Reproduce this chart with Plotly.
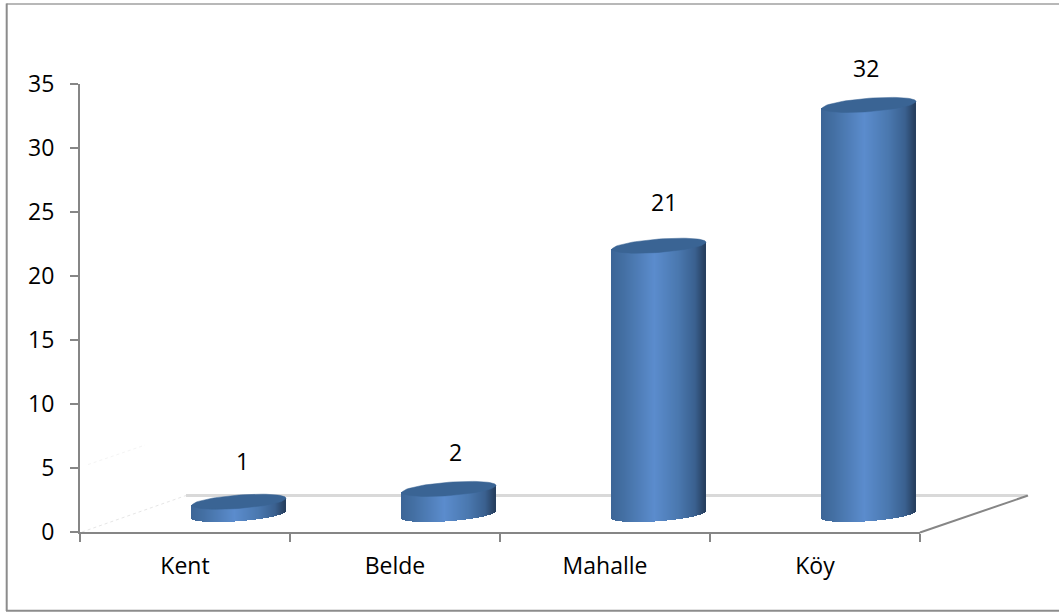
import math
import plotly.graph_objects as go

# ---- data ----
categories = ["Kent", "Belde", "Mahalle", "Köy"]
values = [1, 2, 21, 32]
y_ticks = [0, 5, 10, 15, 20, 25, 30, 35]

# ---- geometry / style ----
W, H = 1059, 612
L, R, T, B = 80, 920, 83.5, 532
UNIT = (B - T) / 35
X_UNIT = (R - L) / 4
DEPTH_X = 54 / X_UNIT          # floor depth shift of the cylinders
BASE = (B - 514.5) / UNIT      # floor lift of the cylinders, value units
HALF = 47 / X_UNIT
SHEAR = 3.5 / UNIT
MINOR = 6.7 / UNIT
N = 94
GREY = "#868686"
FONT = dict(family="Open Sans, Lato, sans-serif", size=23, color="#000000")
label_dx = [3.5, 6, 5, -3]
label_dy = [3.15, 2.85, 3.45, 2.85]
stops = [(-1, (60, 101, 150)), (-0.72, (68, 112, 164)), (-0.08, (91, 140, 205)),
         (0.43, (74, 120, 175)), (0.79, (58, 96, 143)), (1, (38, 62, 94))]


def shade(t):
    for (a, ca), (b, cb) in zip(stops, stops[1:]):
        if t <= b:
            f = (t - a) / (b - a)
            return "rgb(%d,%d,%d)" % tuple(round(p + (q - p) * f) for p, q in zip(ca, cb))
    return "rgb(38,62,94)"


def px(x):
    return (x - L) / (R - L)


def py(y):
    return (B - y) / (B - T)


fig = go.Figure()

# invisible carrier that gives the category axis its labels
fig.add_trace(go.Scatter(x=categories, y=values, mode="markers", marker=dict(opacity=0),
                         hoverinfo="skip", xaxis="x", yaxis="y", showlegend=False))

# cylinder sides: thin shaded bars
bx, bbase, by, bcol = [], [], [], []
for i, v in enumerate(values):
    c = i + DEPTH_X
    for k in range(N):
        t = -1 + 2 * (k + 0.5) / N
        low = BASE + SHEAR * t - MINOR * math.sqrt(1 - t * t)
        top = BASE + v + SHEAR * t
        bx.append(c + t * HALF)
        bbase.append(low)
        by.append(top - low)
        bcol.append(shade(t))
fig.add_trace(go.Bar(x=bx, y=by, base=bbase, width=[2.7 * HALF / N] * len(bx),
                     marker=dict(color=bcol, line=dict(width=0)), hoverinfo="skip",
                     xaxis="x2", yaxis="y", showlegend=False))

# cylinder caps
for i, v in enumerate(values):
    c = i + DEPTH_X
    angles = [2 * math.pi * k / 72 for k in range(73)]
    fig.add_trace(go.Scatter(
        x=[c + HALF * math.cos(a) for a in angles],
        y=[BASE + v + SHEAR * math.cos(a) + MINOR * math.sin(a) for a in angles],
        mode="lines", line=dict(width=0.5, color="#3a6494"), fill="toself",
        fillcolor="#3a6494", hoverinfo="skip", xaxis="x2", yaxis="y", showlegend=False))

# value labels (paper reference: the highest one sits above the axis range)
annotations = [
    dict(x=(i + DEPTH_X + label_dx[i] / X_UNIT + 0.5) / 4, y=(BASE + v + label_dy[i]) / 35,
         xref="paper", yref="paper",
         text=str(v), showarrow=False, font=FONT, xanchor="center", yanchor="middle")
    for i, v in enumerate(values)
]


def seg(x0, y0, x1, y1, color, width, dash="solid"):
    return dict(type="line", xref="paper", yref="paper", x0=px(x0), y0=py(y0), x1=px(x1), y1=py(y1),
                line=dict(color=color, width=width, dash=dash), layer="below")


shapes = [
    seg(186, 495.5, 1027, 495.5, "#d9d9d9", 3),
    seg(82, 532, 186, 495.5, "#e6e6e6", 1, "dot"),
    seg(88, 464.5, 145, 445, "#f4f4f4", 1, "dot"),
    seg(920, 532.5, 1028, 495.5, GREY, 2),
    seg(6.5, 3.3, 1059, 3.3, "#a0a0a0", 1.5),
    seg(6.7, 3, 6.7, 611, "#8c8c8c", 2),
    seg(6, 610.8, 1059, 610.8, "#8c8c8c", 2),
]

fig.update_layout(
    width=W, height=H, autosize=False,
    margin=dict(l=L, r=W - R, t=T, b=H - B, pad=0),
    paper_bgcolor="white", plot_bgcolor="white",
    barmode="overlay", bargap=0, showlegend=False,
    shapes=shapes, annotations=annotations,
    xaxis=dict(type="category", categoryorder="array", categoryarray=categories,
               range=[-0.5, 3.5], tickson="boundaries", ticks="outside", ticklen=8,
               tickwidth=2, tickcolor=GREY, showline=True, linecolor=GREY, linewidth=2,
               showgrid=False, zeroline=False, tickfont=FONT, ticklabelstandoff=12),
    xaxis2=dict(overlaying="x", matches=None, range=[-0.5, 3.5], visible=False, showgrid=False,
                zeroline=False),
    yaxis=dict(range=[0, 35], tickmode="array", tickvals=y_ticks, ticktext=[str(v) for v in y_ticks],
               ticks="outside", ticklen=8, tickwidth=2, tickcolor=GREY, showline=True,
               linecolor=GREY, linewidth=2, showgrid=False, zeroline=False, tickfont=FONT,
               ticklabelstandoff=11),
)

fig.write_html("out.html", config=dict(displayModeBar=False),
               post_script="document.body.style.margin='0';document.body.style.overflow='hidden';")
